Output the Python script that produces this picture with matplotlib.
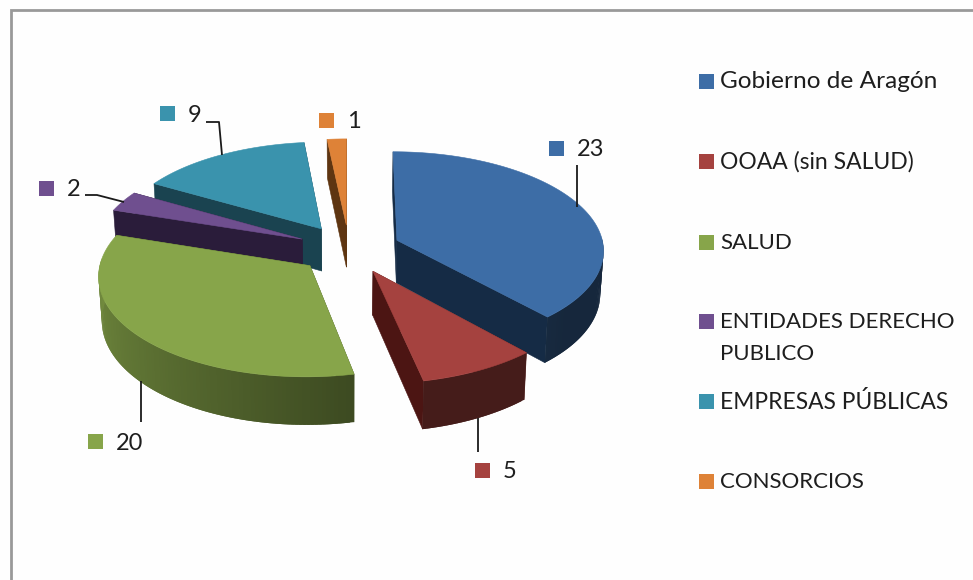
import matplotlib
matplotlib.use("Agg")
import matplotlib.pyplot as plt
from matplotlib.patches import Polygon, Rectangle
from matplotlib.colors import to_rgb
import numpy as np

# datos
nombres = ["Gobierno de Aragón", "OOAA (sin SALUD)", "SALUD",
           "ENTIDADES DERECHO\nPUBLICO", "EMPRESAS PÚBLICAS", "CONSORCIOS"]
valores = [23, 5, 20, 2, 9, 1]
colores = ["#3D6DA6", "#A5423F", "#87A54A", "#6F4F8F", "#3A93AD", "#DE8237"]

# color de la cara de corte de cada sector
colores_corte = ["#152B45", "#4C1513", "#3F4F22", "#2A1C3A", "#1A4350", "#5E3511"]

# posiciones en pixeles de la imagen
pos_etiquetas = [(556, 148), (482, 470), (95, 441), (46, 188), (167, 113), (326, 120)]
lineas_guia = [
    ([577, 577], [165, 207]),
    ([478, 478], [418, 452]),
    ([141, 141], [381, 422]),
    ([85, 97, 124], [195, 195, 202]),
    ([206, 219, 222], [122, 122, 155]),
]
y_leyenda = [82, 162, 243, 322, 402, 482]
tam_leyenda = [17.6, 16.5, 16, 16, 16.4, 16]

# parametros de la proyeccion
cx, cy = 349, 249
a, b = 207, 98
k = 0.09
prof = 43
explosion = 0.25
fuente = "Lato"
color_texto = "#1E1E1E"


def proyectar(u, v, abajo=False):
    s = 1 / (1 - k * v)
    x = cx + a * u * s
    y = cy + b * v * s
    if abajo:
        x = cx + (x - cx) * 0.987
        y = y + prof * s
    return x, y


def oscurecer(color, f):
    return tuple(c * f for c in to_rgb(color))


def sombra(angulo):
    return np.interp(angulo, [90, 130, 150, 168, 230, 288], [0.36, 0.36, 0.42, 0.45, 0.70, 0.90])


def dibujar_sector(ax, ini, fin, color, color_corte):
    medio = np.radians((ini + fin) / 2)
    du = explosion * np.sin(medio)
    dv = -explosion * np.cos(medio)
    angulos = np.arange(ini, fin + 0.5, 1.0)
    rad = np.radians(angulos)
    u = du + np.sin(rad)
    v = dv - np.cos(rad)
    ax_top, ay_top = proyectar(du, dv)
    ax_bot, ay_bot = proyectar(du, dv, True)
    x_top, y_top = proyectar(u, v)
    x_bot, y_bot = proyectar(u, v, True)

    # caras de corte
    for j in [0, -1]:
        cara = [(ax_top, ay_top), (x_top[j], y_top[j]), (x_bot[j], y_bot[j]), (ax_bot, ay_bot)]
        ax.add_patch(Polygon(cara, closed=True, facecolor=color_corte, edgecolor=color_corte, lw=0.4))

    # pared exterior con degradado, solo la parte que mira al frente
    for i in range(len(angulos) - 1):
        if angulos[i] < 88 or angulos[i] > 272:
            continue
        c = oscurecer(color, sombra(angulos[i]))
        if color == colores[1]:
            c = oscurecer(color, 0.42)
        h = min(i + 2, len(angulos) - 1)
        cara = [(x_top[i], y_top[i]), (x_top[h], y_top[h]),
                (x_bot[h], y_bot[h]), (x_bot[i], y_bot[i])]
        ax.add_patch(Polygon(cara, closed=True, facecolor=c, edgecolor="none"))

    # tapa
    tapa = [(ax_top, ay_top)] + list(zip(x_top, y_top))
    ax.add_patch(Polygon(tapa, closed=True, facecolor=color, edgecolor=color, lw=0.4))


fig = plt.figure(figsize=(9.73, 5.8), dpi=100, facecolor="#FEFEFE")
ax = fig.add_axes([0, 0, 1, 1])
ax.set_xlim(0, 973)
ax.set_ylim(580, 0)
ax.axis("off")

# marco
ax.plot([10.5, 10.5, 973], [580, 9.5, 9.5], color="#999999", lw=2.0, solid_joinstyle="miter")

# angulos de cada sector, en sentido horario desde arriba
total = sum(valores)
limites = np.cumsum([0] + valores) / total * 360

# de atras hacia adelante
orden = [5, 4, 3, 0, 1, 2]
for i in orden:
    dibujar_sector(ax, limites[i], limites[i + 1], colores[i], colores_corte[i])

for xs, ys in lineas_guia:
    ax.plot(xs, ys, color="#1A1A1A", lw=1.3, solid_capstyle="butt")

for i in range(len(valores)):
    x, y = pos_etiquetas[i]
    ax.add_patch(Rectangle((x - 7.5, y - 7.5), 15, 15, facecolor=colores[i], edgecolor="none"))
    ax.text(x + 21, y + 2, str(valores[i]), fontsize=17, family=fuente, color=color_texto,
            ha="left", va="center")

for i in range(len(nombres)):
    y = y_leyenda[i]
    ax.add_patch(Rectangle((699, y - 8.5), 15, 15, facecolor=colores[i], edgecolor="none"))
    lineas = nombres[i].split("\n")
    for j in range(len(lineas)):
        ax.text(720, y + j * 32, lineas[j], fontsize=tam_leyenda[i], family=fuente, color=color_texto,
                ha="left", va="center")

fig.savefig("out.png", dpi=100, facecolor=fig.get_facecolor())
